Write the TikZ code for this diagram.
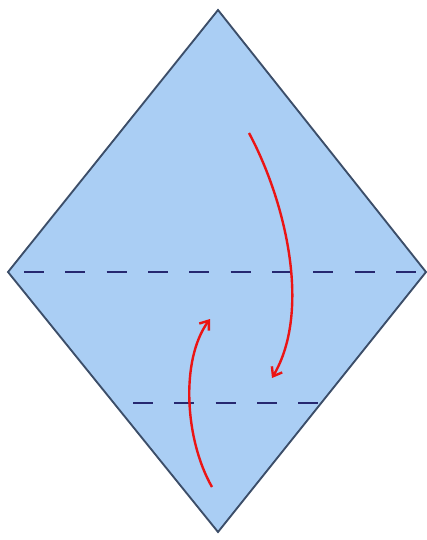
\documentclass[tikz,border=0pt]{standalone}
\usetikzlibrary{arrows.meta}
\definecolor{paperblue}{RGB}{170,206,244}
\definecolor{edgegray}{RGB}{60,78,105}
\definecolor{foldnavy}{RGB}{38,40,112}
\definecolor{arrowred}{RGB}{235,20,20}
\tikzset{every picture/.style={line width=0.75pt}}
\tikzset{
  foldline/.style={color=foldnavy, line width=1.8pt, dash pattern={on 15pt off 16pt}},
  foldarrow/.style={color=arrowred, line width=1.8pt, -{Straight Barb[length=6pt,width=9pt]}}
}
\begin{document}
\begin{tikzpicture}[x=0.75pt,y=0.75pt,yscale=-1,xscale=1]
		\useasboundingbox (0,0) rectangle (427,540);
		
		%Shape: Diamond [id:paper]
		\draw [color=edgegray, fill=paperblue, line width=1.4pt] (218,10) -- (426,272) -- (218,532) -- (8,272) -- cycle ;
		%Straight Lines [id:valley1]
		\draw [foldline] (24,272) -- (420,272) ;
		%Straight Lines [id:valley2]
		\draw [foldline] (133,403) -- (323,403) ;
		
		%Curve Lines [id:fold1]
		\draw [foldarrow] (249,133) .. controls (285,200) and (312,310) .. (272,378) ;
		%Curve Lines [id:fold2]
		\draw [foldarrow] (212,487) .. controls (185,440) and (180,360) .. (210,319) ;
		
	\end{tikzpicture}
\end{document}
